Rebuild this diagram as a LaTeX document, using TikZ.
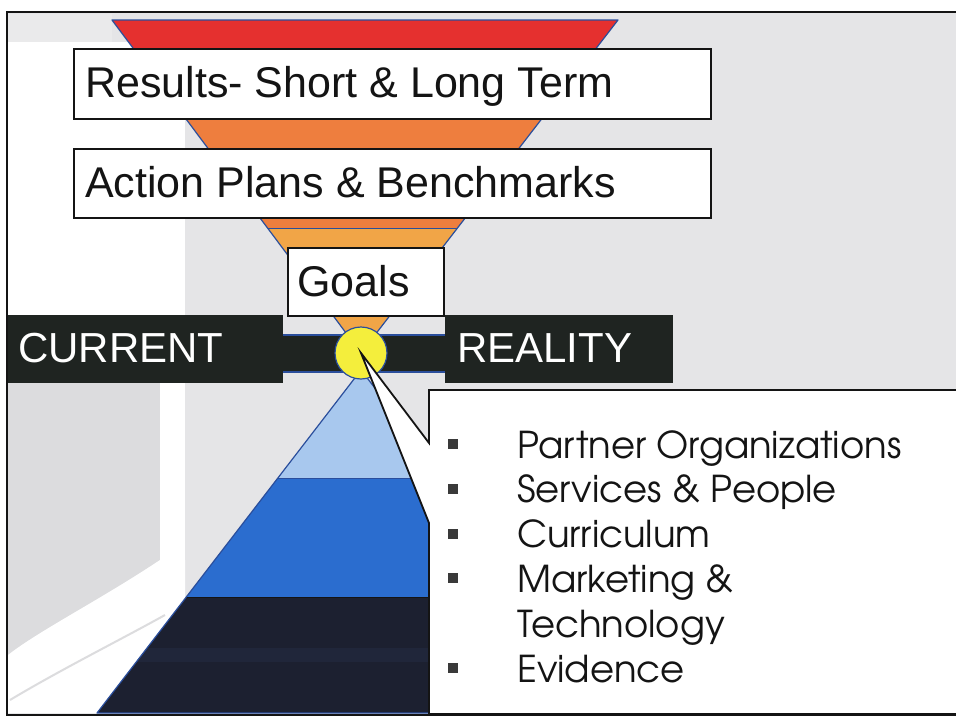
\documentclass[tikz,border=0pt]{standalone}
\usepackage{fontspec}
\setmainfont{Liberation Sans}
\newfontfamily\gothicfont{TeX Gyre Adventor}
\definecolor{bgGray}{HTML}{E5E5E7}
\definecolor{bgMottle}{HTML}{DCDCDE}
\definecolor{barBlack}{HTML}{1F2421}
\definecolor{funRed}{HTML}{E5302F}
\definecolor{funOrange}{HTML}{EE7E3E}
\definecolor{funLight}{HTML}{F1A547}
\definecolor{edgeBlue}{HTML}{2A4E9C}
\definecolor{pyLight}{HTML}{A8C8EE}
\definecolor{pyBlue}{HTML}{2B6DCF}
\definecolor{pyNavy}{HTML}{1C2030}
\definecolor{pyNavyB}{HTML}{20263A}
\definecolor{sunYellow}{HTML}{F4EE3C}
\definecolor{bulletGray}{HTML}{3A3A3A}
\definecolor{inkBlack}{HTML}{141414}
\begin{document}
\begin{tikzpicture}[x=1pt,y=-1pt,
  labelbox/.style={draw=inkBlack, line width=1.6pt, fill=white, inner sep=0pt, anchor=north west},
  darkbox/.style={fill=barBlack, inner sep=0pt, anchor=north west},
  boxtext/.style={font=\fontsize{43}{50}\selectfont, text=inkBlack, inner sep=0pt, anchor=base west},
  bartext/.style={font=\fontsize{42}{50}\selectfont, text=white, inner sep=0pt, anchor=base west},
  listtext/.style={font=\gothicfont\fontsize{37}{44}\selectfont, text=inkBlack, inner sep=0pt, anchor=base west},
  bulletsq/.style={fill=bulletGray, minimum size=10pt, inner sep=0pt},
  bandline/.style={line width=0.8pt}
]
\useasboundingbox (0,0) rectangle (956,723);
% background
\fill[white] (0,0) rectangle (956,723);
\fill[bgGray] (7,12) rectangle (962,715);
\fill[white] (8,42) rectangle (185,315);
\fill[bgMottle!60!white] (8,14) rectangle (112,42);
\fill[bgMottle] (8,383) -- (160,383) -- (160,560) .. controls (100,600) and (40,630) .. (8,655) -- cycle;
\fill[white] (160,383) rectangle (185,713);
\fill[white] (8,713) -- (8,655) .. controls (40,630) and (100,600) .. (160,560) -- (185,560) -- (185,713) -- cycle;
\draw[bgMottle, line width=2pt] (10,700) .. controls (60,670) and (120,640) .. (165,615);

% inverted funnel
\begin{scope}
  \clip (112,20) -- (618,20) -- (361,353) -- cycle;
  \fill[funRed] (0,0) rectangle (956,100);
  \fill[funOrange] (0,100) rectangle (956,228);
  \fill[funLight] (0,228) rectangle (956,360);
  \draw[edgeBlue, bandline] (0,228) -- (956,228);
\end{scope}
\draw[edgeBlue, line width=1.2pt, line join=round] (112,20) -- (618,20) -- (361,353) -- cycle;

% upright pyramid
\begin{scope}
  \clip (361,370) -- (97,713) -- (625,713) -- cycle;
  \fill[pyLight] (0,360) rectangle (956,478);
  \fill[pyBlue] (0,478) rectangle (956,597);
  \fill[pyNavy] (0,597) rectangle (956,713);
  \fill[pyNavyB] (0,648) rectangle (956,662);
  \draw[edgeBlue, bandline] (0,478) -- (956,478);
  \draw[inkBlack, bandline] (0,597) -- (956,597);
\end{scope}
\draw[edgeBlue, line width=1.2pt, line join=round] (361,370) -- (97,713) -- (625,713) -- cycle;

% middle bar
\fill[barBlack] (283,335) rectangle (445,372);
\draw[edgeBlue, line width=1.5pt] (283,335) -- (445,335) (283,372) -- (445,372);

% current / reality blocks
\node[darkbox, minimum width=276pt, minimum height=68pt] (curbox) at (7,315) {};
\node[darkbox, minimum width=228pt, minimum height=68pt] (realbox) at (445,315) {};
\node[bartext] (curtext) at (18,362) {CURRENT};
\node[bartext] (realtext) at (457,362) {REALITY};

% label boxes
\node[labelbox, minimum width=637pt, minimum height=70pt] (resbox) at (73,48) {};
\node[labelbox, minimum width=637pt, minimum height=69pt] (actbox) at (73,148) {};
\node[labelbox, minimum width=156pt, minimum height=68pt] (goalbox) at (287,247) {};
\node[boxtext] (restext) at (85,97) {Results- Short \& Long Term};
\node[boxtext] (acttext) at (85,197) {Action Plans \& Benchmarks};
\node[boxtext] (goaltext) at (297,296) {Goals};

% sun
\node[circle, fill=sunYellow, draw=edgeBlue, line width=1.2pt, minimum size=52pt, inner sep=0pt] (sun) at (361,353) {};

% callout
\filldraw[fill=white, draw=inkBlack, line width=1.8pt, line join=miter]
  (429,443) -- (429,390) -- (964,390) -- (964,714) -- (429,714) -- (429,523) -- (sun.center) -- cycle;

% list
\foreach \yy/\nm in {458/b1, 502.8/b2, 547.6/b3, 592.4/b4, 682/b6}
  \node[bulletsq] (\nm) at (453,\yy-14) {};
\node[listtext] (l1) at (517,458) {Partner Organizations};
\node[listtext] (l2) at (517,502.8) {Services \& People};
\node[listtext] (l3) at (517,547.6) {Curriculum};
\node[listtext] (l4) at (517,592.4) {Marketing \&};
\node[listtext] (l5) at (517,637.2) {Technology};
\node[listtext] (l6) at (517,682) {Evidence};

% frame
\draw[inkBlack, line width=1.8pt] (964,12) -- (7,12) -- (7,715) -- (964,715);
\end{tikzpicture}
\end{document}
